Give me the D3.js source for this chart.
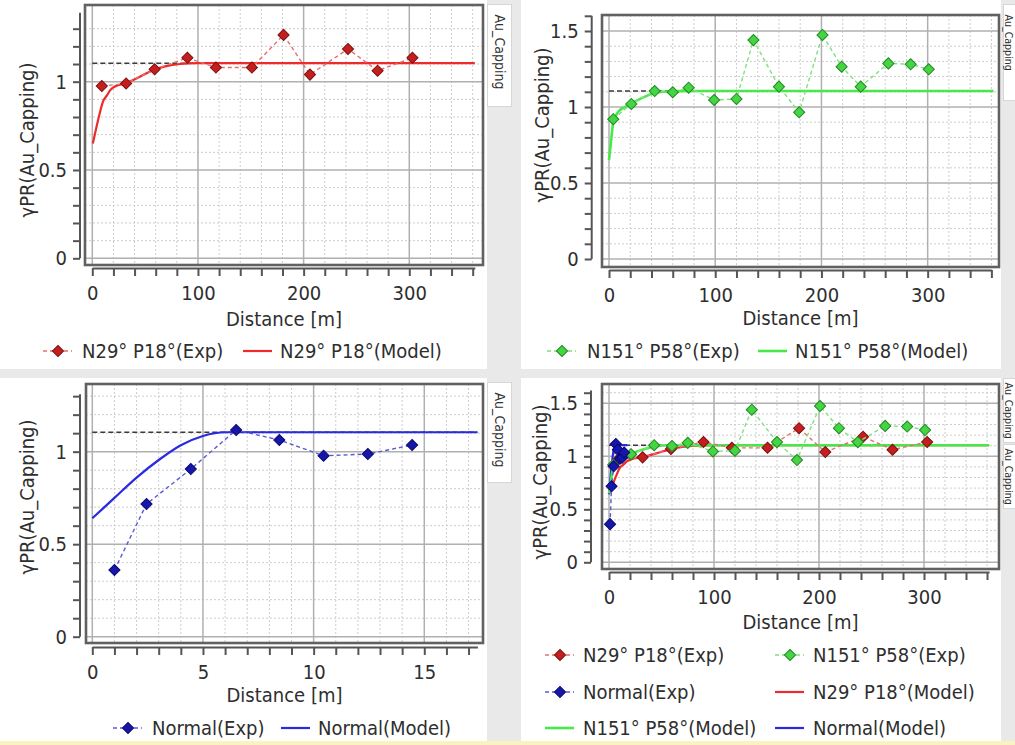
<!DOCTYPE html>
<html><head><meta charset="utf-8">
<script src="https://cdn.jsdelivr.net/npm/d3@7"></script>
<style>
html,body{margin:0;padding:0;background:#e9e9e9;}
svg{display:block;}
text{font-family:"DejaVu Sans Condensed","DejaVu Sans",sans-serif;font-stretch:condensed;fill:#2e2e2e;}
</style></head><body>
<svg id="c" width="1015" height="745"></svg>
<script>
// ---------- data ----------
const distN29 = [9, 32, 59, 90, 117, 151, 181, 206, 242, 270, 303];
const gammaN29 = [0.975, 0.99, 1.07, 1.135, 1.08, 1.08, 1.265, 1.04, 1.185, 1.062, 1.135];
const distN151 = [4, 21, 43, 60, 75, 99, 120, 136, 160, 179, 201, 219, 237, 263, 284, 301];
const gammaN151 = [0.92, 1.02, 1.105, 1.097, 1.127, 1.046, 1.053, 1.44, 1.134, 0.965, 1.474, 1.265, 1.134, 1.287, 1.281, 1.248];
const distNormal = [1.0, 2.45, 4.45, 6.5, 8.45, 10.45, 12.45, 14.45];
const gammaNormal = [0.36, 0.717, 0.906, 1.117, 1.063, 0.978, 0.987, 1.036];

const modelDistN29 = [0.5, 4, 7, 10, 14, 17, 21, 31, 45, 58, 70, 83, 100, 362];
const modelGammaN29 = [0.65, 0.745, 0.82, 0.886, 0.924, 0.952, 0.971, 0.99, 1.028, 1.066, 1.088, 1.1, 1.105, 1.105];
const modelDistN151 = [0, 2, 4, 9, 15, 21, 34, 43, 59, 75, 362];
const modelGammaN151 = [0.65, 0.78, 0.9, 0.97, 1.0, 1.024, 1.068, 1.094, 1.104, 1.105, 1.105];
const modelDistNormal = [0, 1, 2, 3, 4, 5, 6, 17.4];
const modelGammaNormal = [0.64, 0.75, 0.86, 0.955, 1.035, 1.085, 1.105, 1.105];
const sill = 1.105;

const xTicksMetres = [0, 100, 200, 300];
const xTicksNormal = [0, 5, 10, 15];
const yTicksLow = [0, 0.5, 1];
const yTicksHigh = [0, 0.5, 1, 1.5];

const nameN29Exp = "N29° P18°(Exp)", nameN29Model = "N29° P18°(Model)";
const nameN151Exp = "N151° P58°(Exp)", nameN151Model = "N151° P58°(Model)";
const nameNormalExp = "Normal(Exp)", nameNormalModel = "Normal(Model)";
const yTitle = "γPR(Au_Capping)", xTitle = "Distance [m]", tabLabel = "Au_Capping";

// ---------- styles ----------
const style = {
  N29:    {marker:"#c41f1f", edge:"#7d1010", dash:"#e27070", model:"#ee2a2a"},
  N151:   {marker:"#44d444", edge:"#1f8a1f", dash:"#80e080", model:"#48e848"},
  Normal: {marker:"#1616aa", edge:"#0a0a70", dash:"#5b5bd0", model:"#2a2ae0"}
};
const seriesDefs = {
  N29:    {dist:distN29, gamma:gammaN29, mDist:modelDistN29, mGamma:modelGammaN29, exp:nameN29Exp, model:nameN29Model},
  N151:   {dist:distN151, gamma:gammaN151, mDist:modelDistN151, mGamma:modelGammaN151, exp:nameN151Exp, model:nameN151Model},
  Normal: {dist:distNormal, gamma:gammaNormal, mDist:modelDistNormal, mGamma:modelGammaNormal, exp:nameNormalExp, model:nameNormalModel}
};

const svg = d3.select("#c");
const FS = 20;

// ---------- background layout ----------
svg.append("rect").attr("x",0).attr("y",0).attr("width",1015).attr("height",745).attr("fill","#e9e9e9");
[[0,0,487,369],[521,0,480,369],[0,378,487,363],[521,378,480,363]].forEach(r=>{
  svg.append("rect").attr("x",r[0]).attr("y",r[1]).attr("width",r[2]).attr("height",r[3]).attr("fill","#ffffff");
});
svg.append("rect").attr("x",0).attr("y",741).attr("width",1015).attr("height",4).attr("fill","#fbf3bd");

function tab(x, y, w, h, cx, fs, off) {
  svg.append("rect").attr("x",x).attr("y",y).attr("width",w).attr("height",h)
    .attr("fill","#ffffff").attr("stroke","#d6d6d6").attr("stroke-width",1);
  svg.append("text").attr("transform",`translate(${cx},${y+off}) rotate(90)`)
    .attr("dominant-baseline","central").style("font-size",fs+"px").text(tabLabel);
}
tab(487.5, 4.5, 24, 102, 499.5, 14, 10);
tab(1003.5, 4.5, 24, 96, 1009, 10.5, 10);
tab(487.5, 382.5, 24, 100, 499.5, 14, 10);
tab(1003.5, 378.5, 24, 64, 1009, 10.5, 4);
tab(1003.5, 444.5, 24, 64, 1009, 10.5, 4);

// ---------- panel drawing ----------
const diamond = d3.symbol().type(d3.symbolSquare).size(62);

function drawPanel(p) {
  const g = svg.append("g");
  const x = d3.scaleLinear().domain(p.xDomain).range(p.xRange);
  const y = d3.scaleLinear().domain(p.yDomain).range(p.yRange);
  const [fx0, fy0, fx1, fy1] = p.frame;

  g.append("rect").attr("x",fx0).attr("y",fy0).attr("width",fx1-fx0).attr("height",fy1-fy0).attr("fill","#fff");

  const nX = Math.round((p.xDomain[1]) / p.xMinorStep);
  const xAll = d3.range(0, nX + 1).map(i => +(i * p.xMinorStep).toFixed(6)).filter(v => v <= p.xDomain[1]);
  const nY = Math.floor(p.yDomain[1] * 10 + 1e-6);
  const yAll = d3.range(0, nY + 1).map(i => +(i / 10).toFixed(6));
  const isMajX = v => p.xMajor.some(m => Math.abs(m - v) < 1e-6);
  const isMajY = v => p.yMajor.some(m => Math.abs(m - v) < 1e-6);

  // minor grid (dotted)
  g.selectAll(null).data(xAll.filter(v => !isMajX(v))).join("line")
    .attr("x1", d => x(d)).attr("x2", d => x(d)).attr("y1", fy0).attr("y2", fy1)
    .attr("stroke","#cdcdcd").attr("stroke-width",1).attr("stroke-dasharray","2,2");
  g.selectAll(null).data(yAll.filter(v => !isMajY(v))).join("line")
    .attr("y1", d => y(d)).attr("y2", d => y(d)).attr("x1", fx0).attr("x2", fx1)
    .attr("stroke","#cdcdcd").attr("stroke-width",1).attr("stroke-dasharray","2,2");
  // major grid
  g.selectAll(null).data(p.xMajor).join("line")
    .attr("x1", d => x(d)).attr("x2", d => x(d)).attr("y1", fy0).attr("y2", fy1)
    .attr("stroke","#b0b0b0").attr("stroke-width",1.5);
  g.selectAll(null).data(p.yMajor).join("line")
    .attr("y1", d => y(d)).attr("y2", d => y(d)).attr("x1", fx0).attr("x2", fx1)
    .attr("stroke","#b0b0b0").attr("stroke-width",1.5);

  // sill
  g.append("line").attr("x1", x(0)).attr("x2", x(p.xDomain[1])).attr("y1", y(sill)).attr("y2", y(sill))
    .attr("stroke","#3a3a3a").attr("stroke-width",1.5).attr("stroke-dasharray","5,3");

  const line = d3.line().x(d => x(d[0])).y(d => y(d[1]));
  const curve = d3.line().x(d => x(d[0])).y(d => y(d[1])).curve(d3.curveMonotoneX);

  // models
  p.models.forEach(k => {
    const s = seriesDefs[k];
    g.append("path").datum(s.mDist.map((d,i)=>[d, s.mGamma[i]]))
      .attr("d", curve).attr("fill","none").attr("stroke", style[k].model)
      .attr("stroke-width", k === "N151" ? 2.6 : 2.2);
  });
  // experimental
  p.exps.forEach(k => {
    const s = seriesDefs[k];
    const pts = s.dist.map((d,i)=>[d, s.gamma[i]]);
    g.append("path").datum(pts).attr("d", line).attr("fill","none")
      .attr("stroke", style[k].dash).attr("stroke-width",1.4).attr("stroke-dasharray","4,3");
    g.selectAll(null).data(pts).join("path")
      .attr("d", diamond)
      .attr("transform", d => `translate(${x(d[0])},${y(d[1])}) rotate(45)`)
      .attr("fill", style[k].marker).attr("stroke", style[k].edge).attr("stroke-width",1);
  });

  // frame
  g.append("rect").attr("x",fx0).attr("y",fy0).attr("width",fx1-fx0).attr("height",fy1-fy0)
    .attr("fill","none").attr("stroke","#616161").attr("stroke-width",2.6);

  // axes
  const fmt = d3.format("~g");
  const xa = g.append("g").attr("transform",`translate(0,${p.xAxisY})`)
    .call(d3.axisBottom(x).tickValues(xAll).tickSize(8).tickSizeOuter(0).tickPadding(10)
      .tickFormat(d => isMajX(d) ? fmt(d) : ""));
  const ya = g.append("g").attr("transform",`translate(${p.yAxisX},0)`)
    .call(d3.axisLeft(y).tickValues(yAll).tickSize(7).tickSizeOuter(0).tickPadding(6)
      .tickFormat(d => isMajY(d) ? fmt(d) : ""));
  [xa, ya].forEach(a => {
    a.select(".domain").attr("stroke","#555").attr("stroke-width",2);
    a.selectAll(".tick line").attr("stroke","#555").attr("stroke-width",2);
    a.selectAll("text").attr("fill","#2e2e2e").style("font-size", FS+"px")
      .style("font-family",'"DejaVu Sans Condensed","DejaVu Sans",sans-serif');
  });
  ya.select(".domain").attr("d", `M0,${y(0)}V${p.yRange[1]}`);

  // titles
  g.append("text").attr("x",(fx0+fx1)/2).attr("y",p.xTitleY).attr("text-anchor","middle")
    .attr("dominant-baseline","central").style("font-size",FS+"px").text(xTitle);
  g.append("text").attr("transform",`translate(${p.yTitle[0]},${p.yTitle[1]}) rotate(-90)`)
    .attr("text-anchor","middle").attr("dominant-baseline","central").style("font-size",FS+"px").text(yTitle);

  // legend
  p.legend.forEach(it => {
    const st = style[it.key];
    const lg = g.append("g");
    if (it.type === "exp") {
      lg.append("line").attr("x1", it.x).attr("x2", it.x + 29).attr("y1", it.y).attr("y2", it.y)
        .attr("stroke", st.dash).attr("stroke-width",1.4).attr("stroke-dasharray","4,3");
      lg.append("path").attr("d", diamond).attr("transform",`translate(${it.x+15},${it.y}) rotate(45)`)
        .attr("fill", st.marker).attr("stroke", st.edge).attr("stroke-width",1);
    } else {
      lg.append("line").attr("x1", it.x).attr("x2", it.x + 29).attr("y1", it.y).attr("y2", it.y)
        .attr("stroke", st.model).attr("stroke-width", it.key === "N151" ? 2.6 : 2.2);
    }
    lg.append("text").attr("x", it.tx).attr("y", it.y).attr("dominant-baseline","central")
      .style("font-size",FS+"px").text(it.type === "exp" ? seriesDefs[it.key].exp : seriesDefs[it.key].model);
  });
}

drawPanel({
  frame:[85,5,483,265], xDomain:[0,362], xRange:[92.3,474.8], yDomain:[0,1.39], yRange:[258.3,12.8],
  xAxisY:268, yAxisX:80, xMajor:xTicksMetres, xMinorStep:20, yMajor:yTicksLow,
  models:["N29"], exps:["N29"], xTitleY:319, yTitle:[27,140],
  legend:[{key:"N29",type:"exp",x:43,tx:82,y:351},{key:"N29",type:"model",x:243,tx:280,y:351}]
});
drawPanel({
  frame:[602,15,999,267], xDomain:[0,360], xRange:[609,991.4], yDomain:[0,1.6], yRange:[259,15.8],
  xAxisY:270, yAxisX:591.7, xMajor:xTicksMetres, xMinorStep:20, yMajor:yTicksHigh,
  models:["N151"], exps:["N151"], xTitleY:318, yTitle:[542,125],
  legend:[{key:"N151",type:"exp",x:547,tx:587,y:351},{key:"N151",type:"model",x:758,tx:795,y:351}]
});
drawPanel({
  frame:[86,384,483,643], xDomain:[0,17.4], xRange:[92.3,477.4], yDomain:[0,1.31], yRange:[636.7,394.3],
  xAxisY:647, yAxisX:80, xMajor:xTicksNormal, xMinorStep:1, yMajor:yTicksLow,
  models:["Normal"], exps:["Normal"], xTitleY:695, yTitle:[27,497],
  legend:[{key:"Normal",type:"exp",x:113,tx:152,y:728},{key:"Normal",type:"model",x:281,tx:318,y:728}]
});
drawPanel({
  frame:[602,384,999,569], xDomain:[0,362], xRange:[609,989.1], yDomain:[0,1.62], yRange:[562.3,390.6],
  xAxisY:572, yAxisX:591, xMajor:xTicksMetres, xMinorStep:20, yMajor:yTicksHigh,
  models:["Normal","N29","N151"], exps:["N29","N151","Normal"], xTitleY:622, yTitle:[540,482],
  legend:[
    {key:"N29",type:"exp",x:545,tx:583,y:655},{key:"N151",type:"exp",x:775,tx:813,y:655},
    {key:"Normal",type:"exp",x:545,tx:583,y:692},{key:"N29",type:"model",x:775,tx:813,y:692},
    {key:"N151",type:"model",x:545,tx:583,y:728},{key:"Normal",type:"model",x:775,tx:813,y:728}
  ]
});
</script>
</body></html>
